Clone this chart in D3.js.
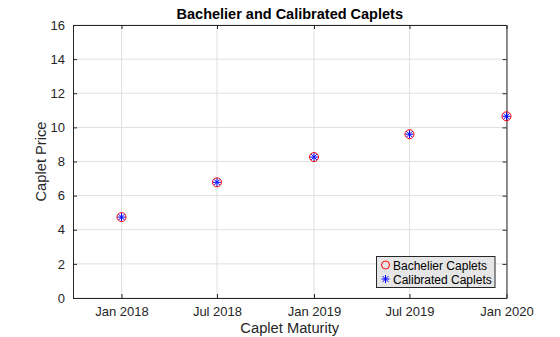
<!DOCTYPE html>
<html><head><meta charset="utf-8">
<script src="https://cdn.jsdelivr.net/npm/d3@7"></script>
<style>body{margin:0;background:#fff}svg{display:block;font-family:Arial,"Liberation Sans",Helvetica,sans-serif}</style>
</head><body><svg id="c" width="560" height="337"></svg>
<script>
const maturities = ["2018-01-01","2018-07-01","2019-01-01","2019-07-01","2020-01-01"];
const bachelierPrices = [4.74, 6.78, 8.26, 9.60, 10.65];
const calibratedPrices = [4.74, 6.78, 8.26, 9.60, 10.65];
const xTickLabels = ["Jan 2018","Jul 2018","Jan 2019","Jul 2019","Jan 2020"];
const yTicks = [0,2,4,6,8,10,12,14,16];

const parse = d3.utcParse("%Y-%m-%d");
const dates = maturities.map(parse);
const svg = d3.select("#c");
const L=73, R=506.5, T=25, B=298;
const x = d3.scaleUtc().domain([parse("2017-10-01"), parse("2020-01-01")]).range([L,R]);
const y = d3.scaleLinear().domain([0,16]).range([B,T]);
const txt="#262626";

// grid
svg.append("g").selectAll("line").data(dates).join("line")
  .attr("x1",d=>x(d)).attr("x2",d=>x(d)).attr("y1",T).attr("y2",B)
  .attr("stroke","#dfdfdf").attr("stroke-width",1);
svg.append("g").selectAll("line").data(yTicks).join("line")
  .attr("x1",L).attr("x2",R).attr("y1",d=>y(d)).attr("y2",d=>y(d))
  .attr("stroke","#dfdfdf").attr("stroke-width",1);

// axes
const xAxis = d3.axisBottom(x).tickValues(dates).tickFormat((d,i)=>xTickLabels[i]).tickSizeInner(-4).tickSizeOuter(0).tickPadding(9);
const gx = svg.append("g").attr("transform",`translate(0,${B})`).call(xAxis);
const xTop = d3.axisTop(x).tickValues(dates).tickFormat("").tickSizeInner(-4).tickSizeOuter(0);
const gxt = svg.append("g").attr("transform",`translate(0,${T})`).call(xTop);
const yAxis = d3.axisLeft(y).tickValues(yTicks).tickSizeInner(-4).tickSizeOuter(0).tickPadding(8);
const gy = svg.append("g").attr("transform",`translate(${L},0)`).call(yAxis);
const yRight = d3.axisRight(y).tickValues(yTicks).tickFormat("").tickSizeInner(-4).tickSizeOuter(0);
const gyr = svg.append("g").attr("transform",`translate(${R},0)`).call(yRight);
[gx,gxt,gy,gyr].forEach(g=>{
  g.selectAll("path").attr("stroke",txt).attr("stroke-width",1);
  g.selectAll("line").attr("stroke",txt);
  g.selectAll("text").attr("fill",txt).style("font-size","13px").style("font-family","Arial,'Liberation Sans',sans-serif");
});

// markers
function star(g, cx, cy, r){
  const p = d3.path();
  p.moveTo(cx-r,cy); p.lineTo(cx+r,cy);
  p.moveTo(cx,cy-r); p.lineTo(cx,cy+r);
  const k=r*0.72;
  p.moveTo(cx-k,cy-k); p.lineTo(cx+k,cy+k);
  p.moveTo(cx-k,cy+k); p.lineTo(cx+k,cy-k);
  g.append("path").attr("d",p.toString()).attr("stroke","#0000ff").attr("stroke-width",1).attr("fill","none");
}
svg.append("g").selectAll("circle").data(bachelierPrices).join("circle")
  .attr("cx",(d,i)=>x(dates[i])).attr("cy",d=>y(d)).attr("r",4.5)
  .attr("fill","none").attr("stroke","#ff0000").attr("stroke-width",1);
const sg = svg.append("g");
calibratedPrices.forEach((d,i)=>star(sg, x(dates[i]), y(d), 4));

// title, labels
svg.append("text").attr("x",(L+R)/2).attr("y",18.5).attr("text-anchor","middle")
  .attr("fill","#000").style("font-size","14.5px").style("font-weight","bold").text("Bachelier and Calibrated Caplets");
svg.append("text").attr("x",(L+R)/2).attr("y",333).attr("text-anchor","middle")
  .attr("fill",txt).style("font-size","14.7px").text("Caplet Maturity");
svg.append("text").attr("transform",`translate(46,${(T+B)/2}) rotate(-90)`).attr("text-anchor","middle")
  .attr("fill",txt).style("font-size","14.7px").text("Caplet Price");

// legend
const lg = svg.append("g");
lg.append("rect").attr("x",376.5).attr("y",256.5).attr("width",118.5).attr("height",31)
  .attr("fill","#e6e6e6").attr("stroke","#262626").attr("stroke-width",1);
lg.append("circle").attr("cx",385.5).attr("cy",265).attr("r",4).attr("fill","none").attr("stroke","#ff0000");
star(lg, 385.5, 279, 4);
lg.append("text").attr("x",393).attr("y",269.5).attr("fill","#000").style("font-size","12px").text("Bachelier Caplets");
lg.append("text").attr("x",393).attr("y",283.5).attr("fill","#000").style("font-size","12px").text("Calibrated Caplets");
</script></body></html>
